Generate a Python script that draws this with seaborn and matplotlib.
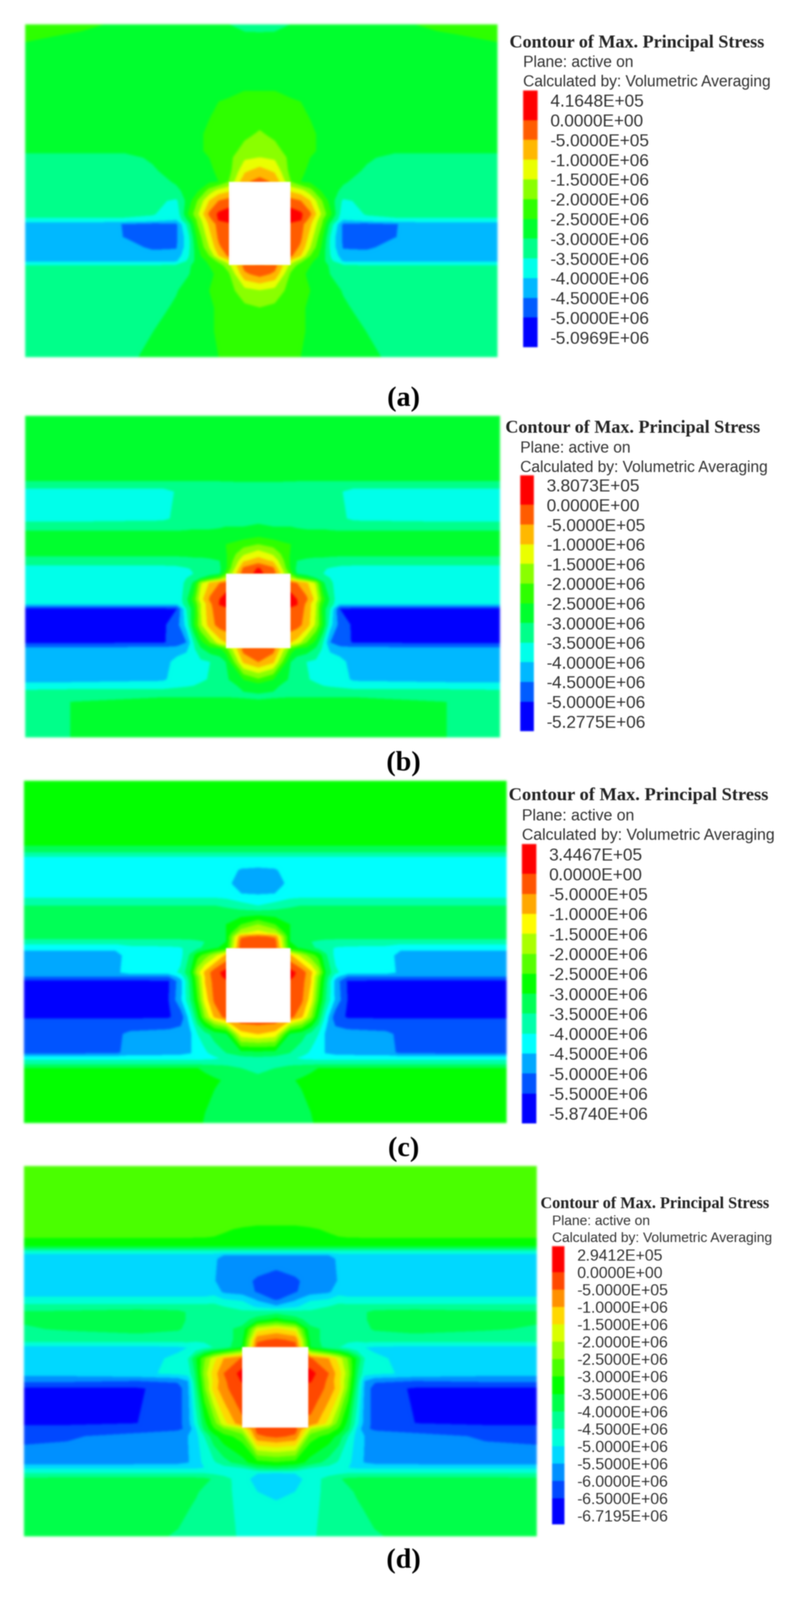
import matplotlib
matplotlib.use("Agg")
import matplotlib.pyplot as plt
import numpy as np
import seaborn as sns
from matplotlib.colors import ListedColormap
from matplotlib.patches import Rectangle

W, H = 1907, 3871

# tick labels of the four legends
LABELS_A = ["4.1648E+05", "0.0000E+00", "-5.0000E+05", "-1.0000E+06", "-1.5000E+06", "-2.0000E+06", "-2.5000E+06",
            "-3.0000E+06", "-3.5000E+06", "-4.0000E+06", "-4.5000E+06", "-5.0000E+06", "-5.0969E+06"]
LABELS_B = ["3.8073E+05", "0.0000E+00", "-5.0000E+05", "-1.0000E+06", "-1.5000E+06", "-2.0000E+06", "-2.5000E+06",
            "-3.0000E+06", "-3.5000E+06", "-4.0000E+06", "-4.5000E+06", "-5.0000E+06", "-5.2775E+06"]
LABELS_C = ["3.4467E+05", "0.0000E+00", "-5.0000E+05", "-1.0000E+06", "-1.5000E+06", "-2.0000E+06", "-2.5000E+06",
            "-3.0000E+06", "-3.5000E+06", "-4.0000E+06", "-4.5000E+06", "-5.0000E+06", "-5.5000E+06", "-5.8740E+06"]
LABELS_D = ["2.9412E+05", "0.0000E+00", "-5.0000E+05", "-1.0000E+06", "-1.5000E+06", "-2.0000E+06", "-2.5000E+06",
            "-3.0000E+06", "-3.5000E+06", "-4.0000E+06", "-4.5000E+06", "-5.0000E+06", "-5.5000E+06", "-6.0000E+06",
            "-6.5000E+06", "-6.7195E+06"]

# stress, in MPa. Columns go from the left edge to the tunnel axis,
# the right half is taken as the mirror of the left one
X_A = [0, .12, .21, .27, .32, .345, .365, .39, .41, .431, .465, .4965]
Y_A = [0, .03, .12, .20, .33, .38, .40, .44, .473, .50, .53, .57, .587, .60, .64, .67, .695, .712, .725, .75, .80, .85, .92, 1]
STRESS_A = [
    [-2.3, -2.4, -2.6, -2.7, -2.7, -2.7, -2.7, -2.7, -2.8, -3.0, -3.3, -3.4],
    [-2.4, -2.55, -2.7, -2.75, -2.75, -2.75, -2.75, -2.75, -2.75, -2.8, -2.9, -2.9],
    [-2.8, -2.8, -2.8, -2.8, -2.8, -2.8, -2.75, -2.75, -2.7, -2.7, -2.65, -2.6],
    [-2.85, -2.85, -2.85, -2.85, -2.8, -2.75, -2.65, -2.6, -2.55, -2.55, -2.5, -2.5],
    [-2.9, -2.9, -2.9, -2.85, -2.8, -2.7, -2.55, -2.45, -2.35, -2.25, -2.1, -1.95],
    [-2.95, -2.95, -2.95, -2.9, -2.8, -2.7, -2.55, -2.45, -2.35, -2.2, -1.85, -1.75],
    [-3.1, -3.1, -3.1, -2.95, -2.8, -2.7, -2.6, -2.5, -2.35, -2.15, -1.6, -1.5],
    [-3.2, -3.2, -3.2, -3.05, -2.85, -2.75, -2.65, -2.55, -2.45, -2.2, -1.1, -0.8],
    [-3.25, -3.25, -3.25, -3.2, -2.95, -2.8, -2.7, -2.6, -2.5, -2.0, -0.6, -0.3],
    [-3.25, -3.25, -3.25, -3.25, -3.1, -2.85, -2.6, -1.8, -1.3, -1.1, -1.1, -1.1],
    [-3.3, -3.3, -3.3, -3.35, -3.6, -2.8, -2.0, -1.0, -0.5, -0.3, -0.3, -0.3],
    [-3.3, -3.3, -3.35, -3.45, -3.9, -2.5, -1.6, -0.4, 0.1, 0.25, 0.25, 0.25],
    [-3.6, -3.6, -3.6, -3.7, -4.0, -2.9, -1.9, -0.7, 0.05, 0.2, 0.2, 0.2],
    [-4.25, -4.25, -4.52, -4.7, -4.6, -3.3, -2.0, -0.9, -0.3, -0.1, -0.1, -0.1],
    [-4.25, -4.25, -4.51, -4.75, -4.6, -3.7, -2.4, -1.2, -0.4, -0.1, -0.1, -0.1],
    [-4.25, -4.25, -4.3, -4.6, -4.55, -3.7, -2.6, -1.5, -0.6, -0.2, -0.2, -0.2],
    [-4.25, -4.25, -4.3, -4.3, -4.3, -3.6, -2.7, -2.0, -1.0, -0.4, -0.4, -0.4],
    [-4.1, -4.1, -4.1, -4.1, -4.05, -3.4, -2.8, -2.4, -1.9, -1.2, -1.2, -1.2],
    [-3.5, -3.5, -3.5, -3.5, -3.4, -3.1, -2.8, -2.5, -2.3, -1.7, -0.3, -0.25],
    [-3.3, -3.3, -3.3, -3.25, -3.15, -3.02, -2.9, -2.6, -2.4, -2.1, -0.6, -0.3],
    [-3.3, -3.3, -3.25, -3.2, -3.02, -2.9, -2.75, -2.5, -2.35, -2.2, -1.7, -1.55],
    [-3.3, -3.3, -3.2, -3.1, -2.96, -2.85, -2.7, -2.6, -2.4, -2.3, -2.1, -2.0],
    [-3.3, -3.25, -3.2, -3.01, -2.85, -2.75, -2.65, -2.55, -2.45, -2.35, -2.25, -2.2],
    [-3.3, -3.2, -3.1, -2.9, -2.8, -2.75, -2.7, -2.6, -2.5, -2.4, -2.3, -2.3],
]

X_B = [0, .095, .29, .32, .34, .355, .37, .39, .41, .423, .46, .491]
Y_B = [0, .195, .215, .235, .32, .345, .375, .40, .43, .45, .475, .491, .505, .52, .57, .585, .60, .65, .705, .725, .765, .82, .84, .875, .89, .95, 1]
STRESS_B = [
    [-2.75, -2.75, -2.75, -2.75, -2.75, -2.75, -2.75, -2.75, -2.75, -2.75, -2.75, -2.75],
    [-2.8, -2.8, -2.8, -2.8, -2.8, -2.8, -2.8, -2.8, -2.8, -2.8, -2.8, -2.8],
    [-3.3, -3.3, -3.3, -3.3, -3.3, -3.3, -3.3, -3.3, -3.3, -3.25, -3.2, -3.2],
    [-3.7, -3.7, -3.7, -3.45, -3.3, -3.25, -3.25, -3.25, -3.25, -3.25, -3.25, -3.2],
    [-3.7, -3.7, -3.6, -3.4, -3.3, -3.25, -3.2, -3.2, -3.2, -3.1, -3.1, -3.1],
    [-3.2, -3.2, -3.2, -3.2, -3.15, -3.1, -3.1, -3.1, -3.05, -3.0, -3.0, -2.95],
    [-2.75, -2.75, -2.75, -2.75, -2.75, -2.75, -2.75, -2.75, -2.75, -2.75, -2.7, -2.55],
    [-2.75, -2.75, -2.75, -2.75, -2.75, -2.75, -2.75, -2.75, -2.7, -2.5, -2.2, -2.0],
    [-2.9, -2.9, -2.9, -2.9, -2.9, -2.9, -2.9, -2.9, -2.85, -2.55, -1.6, -1.2],
    [-3.2, -3.2, -3.2, -3.2, -3.15, -3.1, -3.1, -3.05, -3.0, -2.6, -1.1, -0.8],
    [-3.7, -3.7, -3.7, -3.65, -3.55, -3.45, -3.35, -3.25, -3.1, -2.6, -0.4, 0.05],
    [-3.75, -3.75, -3.75, -3.7, -3.6, -3.5, -3.4, -3.25, -3.05, -2.2, -0.2, 0.1],
    [-3.75, -3.75, -3.75, -3.7, -3.5, -3.3, -3.0, -2.5, -2.0, -1.5, -1.5, -1.5],
    [-3.75, -3.75, -3.75, -3.75, -3.4, -2.9, -1.6, -0.9, -0.5, -0.3, -0.3, -0.3],
    [-3.75, -3.75, -3.75, -3.95, -3.1, -2.3, -1.2, -0.4, 0.0, 0.2, 0.2, 0.2],
    [-4.0, -4.0, -4.0, -4.0, -3.2, -2.5, -1.5, -0.6, 0.05, 0.2, 0.2, 0.2],
    [-5.1, -5.1, -5.1, -5.0, -3.5, -2.7, -1.5, -0.6, -0.2, -0.1, -0.1, -0.1],
    [-5.1, -5.1, -5.1, -4.7, -3.8, -2.6, -1.6, -0.7, -0.3, -0.2, -0.2, -0.2],
    [-5.1, -5.1, -5.05, -4.8, -4.5, -3.5, -2.7, -2.0, -1.2, -1.0, -1.0, -1.0],
    [-4.3, -4.3, -4.3, -4.3, -4.1, -3.6, -3.1, -2.7, -2.6, -2.2, -0.3, -0.2],
    [-4.25, -4.25, -4.25, -3.8, -3.75, -3.7, -3.6, -3.5, -3.3, -3.0, -0.9, -0.5],
    [-4.25, -4.25, -4.1, -3.75, -3.75, -3.7, -3.6, -3.45, -3.3, -3.1, -2.5, -2.1],
    [-3.7, -3.7, -3.7, -3.6, -3.55, -3.5, -3.4, -3.3, -3.2, -3.1, -2.95, -2.8],
    [-3.15, -3.05, -3.01, -3.01, -3.01, -3.01, -3.01, -3.01, -3.01, -3.01, -3.05, -3.1],
    [-3.1, -3.0, -2.8, -2.8, -2.8, -2.8, -2.8, -2.8, -2.8, -2.8, -2.85, -2.9],
    [-3.1, -3.0, -2.75, -2.75, -2.75, -2.75, -2.75, -2.75, -2.75, -2.75, -2.75, -2.75],
    [-3.15, -3.0, -2.75, -2.75, -2.75, -2.75, -2.75, -2.75, -2.75, -2.75, -2.75, -2.75],
]

X_C = [0, .19, .22, .30, .325, .345, .36, .375, .395, .419, .45, .485]
Y_C = [0, .18, .20, .225, .26, .30, .33, .34, .365, .39, .42, .445, .455, .47, .489, .51, .56, .572, .585, .64, .69, .70, .74, .795, .81, .825, .84, .875, 1]
STRESS_C = [
    [-2.75, -2.75, -2.75, -2.75, -2.75, -2.75, -2.75, -2.75, -2.75, -2.75, -2.75, -2.75],
    [-2.85, -2.85, -2.85, -2.85, -2.85, -2.85, -2.85, -2.85, -2.85, -2.85, -2.85, -2.85],
    [-3.2, -3.2, -3.2, -3.2, -3.2, -3.2, -3.2, -3.2, -3.2, -3.2, -3.2, -3.2],
    [-4.1, -4.1, -4.1, -4.1, -4.1, -4.1, -4.1, -4.1, -4.1, -4.1, -4.1, -4.1],
    [-4.25, -4.25, -4.25, -4.25, -4.25, -4.25, -4.25, -4.25, -4.25, -4.3, -4.55, -4.6],
    [-4.25, -4.25, -4.25, -4.25, -4.25, -4.25, -4.25, -4.25, -4.3, -4.35, -4.8, -4.9],
    [-4.2, -4.2, -4.2, -4.2, -4.2, -4.2, -4.2, -4.2, -4.2, -4.3, -4.5, -4.55],
    [-4.05, -4.05, -4.05, -4.05, -4.05, -4.05, -4.05, -4.05, -4.05, -4.1, -4.3, -4.35],
    [-3.5, -3.5, -3.5, -3.5, -3.5, -3.5, -3.5, -3.5, -3.5, -3.6, -3.8, -4.0],
    [-3.2, -3.2, -3.2, -3.2, -3.2, -3.2, -3.2, -3.2, -3.2, -3.2, -3.2, -3.15],
    [-3.1, -3.1, -3.1, -3.1, -3.1, -3.1, -3.1, -3.1, -3.1, -3.0, -2.5, -2.0],
    [-3.1, -3.1, -3.1, -3.1, -3.1, -3.1, -3.1, -3.15, -3.2, -3.0, -1.6, -1.3],
    [-3.25, -3.25, -3.25, -3.25, -3.25, -3.25, -3.25, -3.25, -3.25, -3.0, -0.6, -0.4],
    [-3.75, -3.75, -3.75, -3.75, -3.75, -3.7, -3.6, -3.5, -3.4, -3.0, -0.3, -0.25],
    [-4.4, -4.4, -4.15, -4.1, -4.05, -3.8, -3.6, -3.4, -3.1, -2.8, -0.2, -0.2],
    [-4.7, -4.7, -4.25, -4.25, -4.15, -3.4, -2.7, -2.3, -1.7, -0.9, -0.9, -0.9],
    [-4.7, -4.6, -4.3, -4.25, -3.9, -3.0, -1.7, -0.9, -0.2, 0.2, 0.2, 0.2],
    [-5.0, -5.0, -5.0, -5.0, -4.3, -3.2, -2.1, -1.0, -0.2, 0.1, 0.1, 0.1],
    [-5.6, -5.6, -5.6, -5.55, -4.7, -3.3, -2.2, -1.0, -0.3, -0.05, -0.05, -0.05],
    [-5.6, -5.6, -5.6, -5.5, -4.6, -3.5, -2.5, -1.3, -0.4, -0.1, -0.1, -0.1],
    [-5.6, -5.6, -5.6, -5.55, -5.3, -4.2, -3.1, -2.0, -0.9, -0.3, -0.3, -0.3],
    [-5.4, -5.4, -5.4, -5.4, -5.2, -4.3, -3.3, -2.4, -1.5, -1.0, -0.3, -0.25],
    [-5.25, -5.1, -4.9, -4.8, -4.75, -4.6, -4.0, -3.7, -3.3, -3.1, -1.2, -1.0],
    [-5.2, -5.1, -4.8, -4.75, -4.7, -4.55, -4.2, -4.1, -3.8, -3.5, -3.2, -3.2],
    [-4.2, -4.2, -4.2, -4.2, -4.2, -4.2, -4.2, -4.15, -4.1, -3.9, -3.7, -3.6],
    [-3.7, -3.7, -3.7, -3.7, -3.7, -3.7, -3.7, -3.7, -3.7, -3.7, -3.7, -3.7],
    [-3.0, -3.0, -3.0, -3.0, -3.0, -3.0, -3.0, -3.1, -3.2, -3.3, -3.5, -3.6],
    [-2.75, -2.75, -2.75, -2.75, -2.75, -2.75, -2.75, -2.85, -2.95, -3.05, -3.25, -3.4],
    [-2.75, -2.75, -2.75, -2.75, -2.75, -2.75, -2.9, -3.05, -3.2, -3.25, -3.25, -3.25],
]

X_D = [0, .085, .222, .30, .32, .335, .352, .37, .39, .4255, .455, .492]
Y_D = [0, .15, .17, .20, .215, .23, .24, .25, .31, .34, .36, .38, .395, .415, .44, .47, .49, .52, .56, .58, .60, .695, .71, .73, .80, .815, .83, .845, .88, 1]
STRESS_D = [
    [-2.7, -2.7, -2.7, -2.7, -2.7, -2.7, -2.7, -2.7, -2.7, -2.7, -2.7, -2.7],
    [-2.75, -2.75, -2.75, -2.75, -2.75, -2.75, -2.75, -2.75, -2.8, -2.85, -2.9, -2.9],
    [-2.8, -2.8, -2.8, -2.8, -2.8, -2.85, -2.85, -2.9, -2.95, -3.05, -3.1, -3.1],
    [-3.05, -3.05, -3.05, -3.05, -3.05, -3.05, -3.05, -3.05, -3.1, -3.15, -3.2, -3.2],
    [-3.45, -3.45, -3.45, -3.45, -3.45, -3.45, -3.45, -3.45, -3.45, -3.45, -3.45, -3.45],
    [-4.6, -4.6, -4.6, -4.6, -4.6, -4.6, -4.6, -4.6, -4.6, -4.6, -4.6, -4.6],
    [-5.2, -5.2, -5.2, -5.2, -5.2, -5.2, -5.2, -5.2, -5.5, -5.5, -5.5, -5.5],
    [-5.25, -5.25, -5.25, -5.25, -5.25, -5.25, -5.25, -5.4, -5.7, -5.75, -5.8, -5.8],
    [-5.25, -5.25, -5.25, -5.25, -5.25, -5.25, -5.3, -5.45, -5.8, -5.9, -6.05, -6.2],
    [-5.2, -5.2, -5.2, -5.2, -5.2, -5.2, -5.2, -5.2, -5.6, -5.75, -6.05, -6.3],
    [-4.9, -4.9, -4.9, -4.9, -4.9, -4.9, -4.9, -4.8, -5.0, -5.1, -5.6, -6.1],
    [-4.3, -4.3, -4.3, -4.3, -4.3, -4.3, -4.3, -4.3, -4.5, -4.7, -5.1, -5.4],
    [-3.95, -3.9, -3.75, -3.85, -4.05, -4.1, -4.2, -4.3, -4.4, -4.4, -4.3, -4.2],
    [-3.95, -3.9, -3.75, -3.85, -4.05, -4.1, -4.2, -4.3, -4.3, -4.2, -3.8, -3.3],
    [-4.05, -3.95, -3.8, -3.95, -4.1, -4.1, -4.1, -4.1, -4.1, -3.9, -1.8, -1.4],
    [-4.3, -4.3, -4.3, -4.3, -4.3, -4.4, -4.4, -4.4, -4.3, -3.7, -0.6, -0.4],
    [-5.2, -5.2, -5.2, -5.1, -5.0, -4.9, -4.7, -4.5, -4.3, -3.5, -0.3, -0.3],
    [-5.25, -5.25, -5.2, -4.9, -4.5, -3.6, -2.6, -1.7, -1.0, -0.45, -0.45, -0.45],
    [-5.3, -5.3, -5.1, -4.9, -4.8, -3.9, -2.3, -1.3, -0.5, 0.2, 0.2, 0.2],
    [-5.9, -5.9, -6.0, -5.9, -5.5, -4.0, -2.5, -1.4, -0.6, 0.05, 0.05, 0.05],
    [-6.6, -6.6, -6.55, -6.3, -5.6, -4.2, -2.6, -1.3, -0.6, -0.2, -0.2, -0.2],
    [-6.6, -6.6, -6.5, -6.2, -5.7, -4.8, -3.7, -2.8, -1.7, -0.6, -0.6, -0.6],
    [-6.3, -6.3, -6.2, -6.1, -5.9, -5.1, -3.9, -3.1, -2.6, -2.0, -0.3, -0.25],
    [-6.1, -6.05, -5.85, -5.7, -5.5, -5.2, -4.5, -3.7, -3.2, -2.8, -0.6, -0.4],
    [-5.8, -5.8, -5.75, -5.7, -5.55, -5.2, -4.9, -4.6, -4.2, -3.7, -3.2, -3.05],
    [-5.1, -5.1, -5.1, -5.1, -5.1, -5.1, -5.0, -4.9, -4.7, -4.5, -4.0, -3.8],
    [-4.5, -4.5, -4.5, -4.5, -4.5, -4.5, -4.5, -4.6, -4.7, -4.75, -5.0, -5.1],
    [-3.9, -3.8, -3.8, -3.8, -3.8, -3.85, -3.9, -4.05, -4.3, -4.8, -5.2, -5.3],
    [-3.75, -3.75, -3.75, -3.75, -3.85, -3.95, -4.1, -4.25, -4.35, -4.7, -5.0, -5.05],
    [-3.75, -3.75, -3.85, -4.05, -4.2, -4.3, -4.3, -4.35, -4.4, -4.55, -4.75, -4.8],
]

# contour levels of each panel, MPa
LEVELS_A = [-9, -5, -4.5, -4, -3.5, -3, -2.5, -2, -1.5, -1, -0.5, 0, 1]
LEVELS_B = [-9, -5, -4.5, -4, -3.5, -3, -2.5, -2, -1.5, -1, -0.5, 0, 1]
LEVELS_C = [-9, -5.5, -5, -4.5, -4, -3.5, -3, -2.5, -2, -1.5, -1, -0.5, 0, 1]
LEVELS_D = [-9, -6.5, -6, -5.5, -5, -4.5, -4, -3.5, -3, -2.5, -2, -1.5, -1, -0.5, 0, 1]

# openings, fractions of the field (x0, x1, y0, y1)
HOLE_A = [.431, .562, .473, .723]
HOLE_B = [.423, .559, .491, .723]
HOLE_C = [.419, .552, .489, .7065]
HOLE_D = [.4255, .554, .489, .7065]

TITLE = "Contour of Max. Principal Stress"
PLANE = "Plane: active on"
CALC = "Calculated by: Volumetric Averaging"

# layout in pixels of the reference
panels = [
    dict(x=X_A, y=Y_A, z=STRESS_A, levels=LEVELS_A, labels=LABELS_A, hole=HOLE_A, tag="(a)", tag_y=965,
         field=(61, 59, 1204, 864), bar=(1266, 219, 1301, 840), title=(1233, 104), plane=152, calc=199,
         fs=30, fs_text=27, fs_title=31.5),
    dict(x=X_B, y=Y_B, z=STRESS_B, levels=LEVELS_B, labels=LABELS_B, hole=HOLE_B, tag="(b)", tag_y=1847,
         field=(61, 1006, 1210, 1784), bar=(1259, 1150, 1292, 1769), title=(1223, 1036), plane=1085, calc=1132,
         fs=30, fs_text=27, fs_title=31.5),
    dict(x=X_C, y=Y_C, z=STRESS_C, levels=LEVELS_C, labels=LABELS_C, hole=HOLE_C, tag="(c)", tag_y=2780,
         field=(58, 1889, 1226, 2717), bar=(1263, 2042, 1298, 2718), title=(1231, 1925), plane=1975, calc=2022,
         fs=30, fs_text=27.5, fs_title=32),
    dict(x=X_D, y=Y_D, z=STRESS_D, levels=LEVELS_D, labels=LABELS_D, hole=HOLE_D, tag="(d)", tag_y=3776,
         field=(58, 2821, 1299, 3717), bar=(1336, 3015, 1366, 3688), title=(1308, 2913), plane=2955, calc=2997,
         fs=27.5, fs_text=24, fs_title=28.3),
]

sns.set_theme(style="white")
plt.rcParams["font.family"] = ["Liberation Sans", "DejaVu Sans"]

fig = plt.figure(figsize=(W / 100, H / 100), dpi=100, facecolor="white")


def add_axes(x0, y0, x1, y1):
    return fig.add_axes([x0 / W, 1 - y1 / H, (x1 - x0) / W, (y1 - y0) / H])


def soften(sigma):
    # the source figure is a blurry scan, blur the drawn layer the same way
    pad = int(3 * sigma) + 1
    kernel = np.exp(-0.5 * (np.arange(-pad, pad + 1) / sigma) ** 2)
    kernel /= kernel.sum()

    def process(img, dpi):
        img = np.pad(img, ((pad, pad), (pad, pad), (0, 0)))
        alpha = img[..., 3:]
        stack = np.concatenate([img[..., :3] * alpha, alpha], axis=2)
        for axis in (0, 1):
            stack = np.apply_along_axis(np.convolve, axis, stack, kernel, mode="same")
        alpha = np.clip(stack[..., 3:], 1e-6, 1)
        return np.concatenate([np.clip(stack[..., :3] / alpha, 0, 1), alpha], axis=2), -pad, -pad

    return process


for p in panels:
    n_bands = len(p["levels"]) - 1
    # rainbow from blue (lowest band) to red, same hue step between bands
    colors = sns.blend_palette(["#0000ff", "#00ffff", "#00ff00", "#ffff00", "#ff0000"], n_bands)

    half_x = np.array(p["x"])
    half_z = np.array(p["z"])
    cx = half_x[-1]
    xs = np.r_[half_x, 2 * cx - half_x[-2::-1]]
    xs[-1] = 1
    zs = np.hstack([half_z, half_z[:, -2::-1]])

    ax = add_axes(*p["field"])
    field = ax.contourf(xs, p["y"], zs, levels=p["levels"], colors=colors)
    field.set_agg_filter(soften(3))
    x0, x1, y0, y1 = p["hole"]
    hole = Rectangle((x0, y0), x1 - x0, y1 - y0, facecolor="white", edgecolor="none", zorder=5)
    hole.set_agg_filter(soften(2))
    ax.add_patch(hole)
    ax.set_xlim(0, 1)
    ax.set_ylim(1, 0)
    ax.axis("off")

    # legend bar, half-label rows so the end boxes come out one and a half labels tall
    bands = np.arange(n_bands)[::-1]
    rows = np.r_[bands[0], np.repeat(bands, 2), bands[-1]].reshape(-1, 1)
    bar_ax = add_axes(*p["bar"])
    sns.heatmap(rows, ax=bar_ax, cmap=ListedColormap(colors), vmin=-0.5, vmax=n_bands - 0.5,
                cbar=False, xticklabels=False, yticklabels=False)
    bar_ax.collections[0].set_agg_filter(soften(2))
    bar_ax.yaxis.tick_right()
    bar_ax.set_yticks(2 * np.arange(len(p["labels"])) + 1)
    bar_ax.set_yticklabels(p["labels"], rotation=0, fontsize=p["fs"], color="#303030")
    bar_ax.tick_params(axis="y", length=0, pad=22, right=False, left=False)
    texts = list(bar_ax.get_yticklabels())

    tx, ty = p["title"]
    texts.append(fig.text(tx / W, 1 - ty / H, TITLE, family="Liberation Serif", weight="bold", fontsize=p["fs_title"],
                          color="#222222", va="center", ha="left"))
    bx = p["bar"][0]
    texts.append(fig.text(bx / W, 1 - p["plane"] / H, PLANE, fontsize=p["fs_text"], color="#303030", va="center", ha="left"))
    texts.append(fig.text(bx / W, 1 - p["calc"] / H, CALC, fontsize=p["fs_text"], color="#303030", va="center", ha="left"))
    texts.append(fig.text(977 / W, 1 - p["tag_y"] / H, p["tag"], family="Liberation Serif", weight="bold", fontsize=49,
                          color="black", va="center", ha="center"))
    for t in texts:
        t.set_agg_filter(soften(1.2))

fig.savefig("out.png", dpi=100, facecolor="white")
plt.close(fig)
